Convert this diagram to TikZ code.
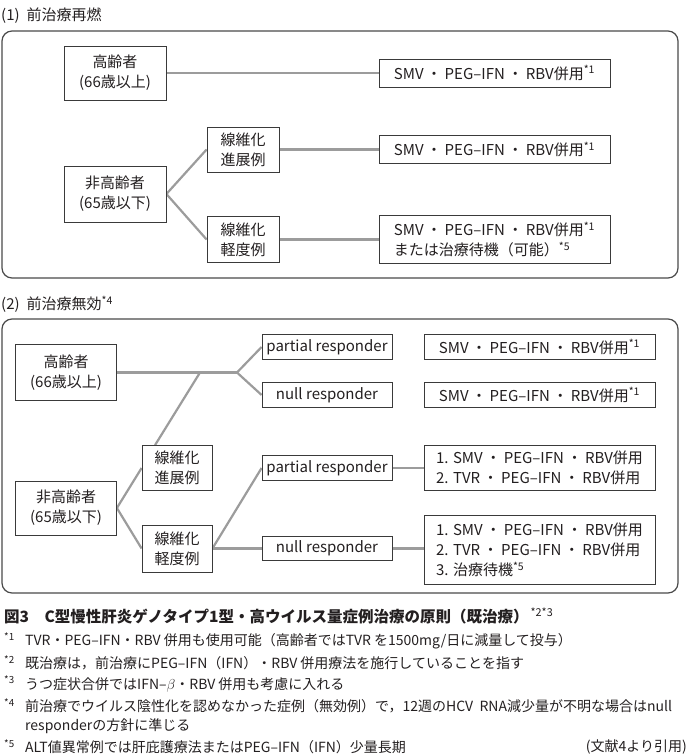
\documentclass[tikz,border=0pt]{standalone}
\usepackage{fontspec}
\setmainfont{Noto Sans CJK JP}
\usetikzlibrary{backgrounds,calc}
\definecolor{ink}{HTML}{231F20}
\definecolor{boxc}{HTML}{3A3A3A}
\definecolor{linec}{HTML}{9C9C9C}
\definecolor{framec}{HTML}{4A4A4A}
\newcommand\bxf{\fontsize{15}{20}\selectfont}
\newcommand\fnf{\fontsize{14}{17}\selectfont}
\newcommand\ttf{\fontsize{15}{18}\selectfont}
\newcommand\capf{\fontsize{15.5}{18}\selectfont}
\newcommand\fnm[1]{\makebox[21pt][l]{\textsuperscript{*#1}}}
\newcommand\dt{\hspace{3pt}・\hspace{3pt}}
\begin{document}
\begin{tikzpicture}[x=1pt,y=-1pt,
  bx/.style={draw=boxc, line width=0.8pt, fill=white, inner sep=0pt, align=center, text=ink, font=\bxf},
  conn/.style={draw=linec, line width=2.2pt},
  frame/.style={draw=framec, line width=1.2pt, rounded corners=10pt},
  ttl/.style={anchor=west, inner sep=0pt, text=ink, font=\ttf},
  fn/.style={anchor=west, inner sep=0pt, text=ink, font=\fnf}]
\useasboundingbox (0,0) rectangle (690,756);

% ---------- (1)
\node[ttl] (t1) at (1,16) {(1)\hspace{7pt}前治療再燃};
\draw[frame] (2,31) rectangle (678,278);
\node[bx, minimum width=102, minimum height=54] (a1) at (115,73) {高齢者\\(66歳以上)};
\node[bx, minimum width=231, minimum height=28] (r1) at (494.5,73) {SMV\dt PEG–IFN\dt RBV併用\textsuperscript{*1}};
\node[bx, minimum width=72, minimum height=45] (b1) at (243,149.5) {線維化\\進展例};
\node[bx, minimum width=231, minimum height=28] (r2) at (494.5,149.5) {SMV\dt PEG–IFN\dt RBV併用\textsuperscript{*1}};
\node[bx, minimum width=102, minimum height=56] (a2) at (115,194) {非高齢者\\(65歳以下)};
\node[bx, minimum width=72, minimum height=46] (b2) at (243,239.5) {線維化\\軽度例};
\node[bx, align=left, minimum width=231, minimum height=48] (r3) at (494.5,239.5) {SMV\dt PEG–IFN\dt RBV併用\textsuperscript{*1}\\または治療待機（可能）\textsuperscript{*5}};

% ---------- (2)
\node[ttl] (t2) at (1,304) {(2)\hspace{7pt}前治療無効\textsuperscript{*4}};
\draw[frame] (2,319) rectangle (678,593);
\node[bx, minimum width=101, minimum height=56] (a3) at (66,372.5) {高齢者\\(66歳以上)};
\node[bx, minimum width=130, minimum height=25] (p1) at (327,347) {partial responder};
\node[bx, minimum width=130, minimum height=25] (n1) at (327,395) {null responder};
\node[bx, minimum width=231, minimum height=25] (s4) at (539.5,347) {SMV\dt PEG–IFN\dt RBV併用\textsuperscript{*1}};
\node[bx, minimum width=231, minimum height=25] (s5) at (539.5,395) {SMV\dt PEG–IFN\dt RBV併用\textsuperscript{*1}};
\node[bx, minimum width=70, minimum height=45] (b3) at (177,468) {線維化\\進展例};
\node[bx, minimum width=101, minimum height=54] (a4) at (66,508) {非高齢者\\(65歳以下)};
\node[bx, minimum width=70, minimum height=47] (b4) at (177,548.5) {線維化\\軽度例};
\node[bx, minimum width=130, minimum height=25] (p2) at (327,468) {partial responder};
\node[bx, minimum width=130, minimum height=24] (n2) at (327,548.5) {null responder};
\node[bx, align=left, minimum width=231, minimum height=45] (s6) at (539.5,467.5) {1. SMV\dt PEG–IFN\dt RBV併用\\2. TVR\dt PEG–IFN\dt RBV併用};
\node[bx, align=left, minimum width=231, minimum height=69] (s7) at (539.5,550) {1. SMV\dt PEG–IFN\dt RBV併用\\2. TVR\dt PEG–IFN\dt RBV併用\\3. 治療待機\textsuperscript{*5}};
\coordinate (j1) at (200,372.5);
\coordinate (br) at (237,372.5);

\begin{pgfonlayer}{background}
\draw[conn] (a1.east) -- (r1.west);
\draw[conn] (b1.east) -- (r2.west);
\draw[conn] (a2.east) -- (b1.west);
\draw[conn] (a2.east) -- (b2.west);
\draw[conn] (b2.east) -- (r3.west);
\draw[conn] (a3.east) -- (br);
\draw[conn] (br) -- (p1.west);
\draw[conn] (br) -- (n1.west);
\draw[conn] (j1) -- ($(b3.north west)!0.19!(b3.north east)$);
\draw[conn] (a4.east) -- (b3.west);
\draw[conn] (a4.east) -- (b4.west);
\draw[conn] (b4.east) -- (p2.west);
\draw[conn] (b4.east) -- (n2.west);
\draw[conn] (p2.east) -- (p2.east -| s6.west);
\draw[conn] (n2.east) -- (n2.east -| s7.west);
\end{pgfonlayer}

% ---------- caption and notes
\node[anchor=west, inner sep=0pt, text=ink, font=\capf] (cap) at (4,616) {\bfseries 図3　C型慢性肝炎ゲノタイプ1型・高ウイルス量症例治療の原則（既治療）\mdseries\hspace{2pt}\textsuperscript{*2*3}};
\node[fn] (f1) at (4,641) {\fnm{1}TVR・PEG–IFN・RBV\hspace{3pt}併用も使用可能（高齢者ではTVR\hspace{3pt}を1500mg/日に減量して投与）};
\node[fn] (f2) at (4,662.5) {\fnm{2}既治療は，前治療にPEG–IFN（IFN）・RBV\hspace{3pt}併用療法を施行していることを指す};
\node[fn] (f3) at (4,684) {\fnm{3}うつ症状合併ではIFN–$\beta$・RBV\hspace{3pt}併用も考慮に入れる};
\node[fn] (f4) at (4,705.5) {\fnm{4}前治療でウイルス陰性化を認めなかった症例（無効例）で，12週のHCV\ \ RNA減少量が不明な場合はnull};
\node[fn] (f4b) at (25,726) {responderの方針に準じる};
\node[fn] (f5) at (4,746.5) {\fnm{5}ALT値異常例では肝庇護療法またはPEG–IFN（IFN）少量長期};
\node[fn, anchor=east] (src) at (687,746.5) {(文献4より引用)};
\end{tikzpicture}
\end{document}
